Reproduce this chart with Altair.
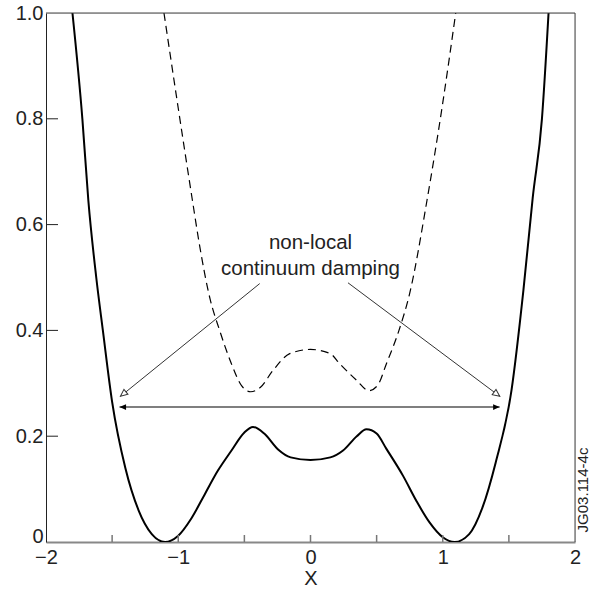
import math
import altair as alt
import pandas as pd

# ---- data ----
solid_x = [-1.80, -1.725, -1.68, -1.62, -1.57, -1.50, -1.40, -1.30, -1.20, -1.10,
           -1.00, -0.90, -0.80, -0.70, -0.60, -0.50, -0.435, -0.35, -0.245, -0.15,
           0.0, 0.15, 0.246, 0.35, 0.423, 0.50, 0.574, 0.70, 0.80, 0.90,
           1.00, 1.09, 1.20, 1.30, 1.40, 1.52, 1.61, 1.68, 1.75, 1.80]
solid_y = [1.0, 0.80, 0.646, 0.50, 0.40, 0.265, 0.14, 0.06, 0.015, 0.0,
           0.012, 0.045, 0.09, 0.135, 0.172, 0.207, 0.2175, 0.205, 0.175, 0.16,
           0.155, 0.16, 0.173, 0.20, 0.213, 0.205, 0.176, 0.125, 0.078, 0.037,
           0.009, 0.0, 0.015, 0.065, 0.15, 0.287, 0.476, 0.65, 0.80, 1.0]

dashed_x = [-1.108, -1.0, -0.893, -0.843, -0.76, -0.687, -0.598, -0.52, -0.452, -0.38,
            -0.283, -0.157, 0.0, 0.15, 0.221, 0.347, 0.442, 0.51, 0.574, 0.669,
            0.75, 0.881, 1.0, 1.098]
dashed_y = [1.0, 0.82, 0.646, 0.567, 0.46, 0.40, 0.337, 0.295, 0.284, 0.292,
            0.3245, 0.356, 0.364, 0.356, 0.337, 0.306, 0.286, 0.297, 0.337, 0.40,
            0.47, 0.646, 0.83, 1.0]

y_label_values = [0, 0.2, 0.4, 0.6, 0.8, 1.0]
x_label_values = [-2, -1, 0, 1, 2]
x_tick_values = [-1.5, -1, -0.5, 0, 0.5, 1, 1.5]
y_tick_values = [0.2, 0.4, 0.6, 0.8]

span_x = [-1.444, 1.43]
span_y = [0.255, 0.255]

pointer_start_x = [-0.384, 0.2835]
pointer_start_y = [0.4885, 0.490]
pointer_tip_x = [-1.437, 1.431]
pointer_tip_y = [0.2754, 0.2754]

label_lines = ["non-local", "continuum damping"]
label_x = [0.0, 0.0]
label_y = [0.565, 0.517]

W, H = 529, 529
FONT = "Liberation Sans"

xs = alt.Scale(domain=[-2, 2], nice=False, zero=False)
ys = alt.Scale(domain=[0, 1], nice=False, zero=False)


def px_angle(x0, y0, x1, y1):
    dx = (x1 - x0) * W / 4.0
    dy = -(y1 - y0) * H / 1.0
    return math.degrees(math.atan2(dx, -dy)) % 360


solid = alt.Chart(pd.DataFrame({"x": solid_x, "y": solid_y})).mark_line(
    color="black", strokeWidth=2, interpolate="monotone", clip=True
).encode(
    x=alt.X("x:Q", scale=xs, axis=alt.Axis(
        values=x_label_values, ticks=False, grid=False,
        labelExpr="replace(format(datum.value, 'd'), '-', '\u2212')",
        labelFlush=False, labelFontSize=20, labelFont=FONT, labelColor="#222",
        labelPadding=5, domainColor="#888", domainWidth=2,
        title="X", titleFontSize=20, titleFont=FONT, titleFontWeight="normal",
        titleColor="#222", titlePadding=1)),
    y=alt.Y("y:Q", scale=ys, axis=alt.Axis(
        values=y_label_values, ticks=False, grid=False,
        labelExpr="datum.value == 0 ? '0' : format(datum.value, '.1f')",
        labelBaseline=alt.condition("datum.value == 0", alt.value("alphabetic"), alt.value("middle")),
        labelFontSize=20, labelFont=FONT, labelColor="#222", labelPadding=3,
        domainColor="#222", domainWidth=1, title=None)),
)

dashed = alt.Chart(pd.DataFrame({"x": dashed_x, "y": dashed_y})).mark_line(
    color="black", strokeWidth=1.2, strokeDash=[8, 5], interpolate="monotone", clip=True
).encode(x=alt.X("x:Q", scale=xs), y=alt.Y("y:Q", scale=ys))

frame_top = alt.Chart().mark_rule(color="#444", strokeWidth=1).encode(
    x=alt.datum(-2, scale=xs), x2=alt.datum(2), y=alt.datum(1, scale=ys))
frame_right = alt.Chart().mark_rule(color="#444", strokeWidth=1).encode(
    x=alt.datum(2, scale=xs), y=alt.datum(0, scale=ys), y2=alt.datum(1))

xticks = alt.Chart(pd.DataFrame({"x": x_tick_values})).mark_rule(
    color="#777", strokeWidth=1.5).encode(
    x=alt.X("x:Q", scale=xs), y=alt.value(H), y2=alt.value(H - 7))
yticks = alt.Chart(pd.DataFrame({"y": y_tick_values})).mark_rule(
    color="#222", strokeWidth=1).encode(
    y=alt.Y("y:Q", scale=ys), x=alt.value(0), x2=alt.value(12))

span = alt.Chart(pd.DataFrame({"x": [span_x[0]], "x2": [span_x[1]], "y": [span_y[0]]})).mark_rule(
    color="#555", strokeWidth=1.5).encode(
    x=alt.X("x:Q", scale=xs), x2="x2:Q", y=alt.Y("y:Q", scale=ys))

span_heads = pd.DataFrame({
    "x": span_x, "y": span_y,
    "a": [px_angle(span_x[1], span_y[1], span_x[0], span_y[0]),
          px_angle(span_x[0], span_y[0], span_x[1], span_y[1])],
})
HEAD = "M0,0L0.45,1L-0.45,1Z"
span_head = alt.Chart(span_heads).mark_point(
    shape=HEAD, filled=True, color="black", size=170, opacity=1).encode(
    x=alt.X("x:Q", scale=xs), y=alt.Y("y:Q", scale=ys), angle=alt.Angle("a:Q", scale=None))

ptr = pd.DataFrame({"x": pointer_start_x, "y": pointer_start_y,
                    "x2": pointer_tip_x, "y2": pointer_tip_y})
ptr["a"] = [px_angle(a, b, c, d) for a, b, c, d in
            zip(pointer_start_x, pointer_start_y, pointer_tip_x, pointer_tip_y)]
pointers = alt.Chart(ptr).mark_rule(color="#333", strokeWidth=1).encode(
    x=alt.X("x:Q", scale=xs), y=alt.Y("y:Q", scale=ys), x2="x2:Q", y2="y2:Q")
pointer_heads = alt.Chart(ptr).mark_point(
    shape=HEAD, filled=True, fill="white", stroke="#333", strokeWidth=1,
    size=200, opacity=1).encode(
    x=alt.X("x2:Q", scale=xs), y=alt.Y("y2:Q", scale=ys), angle=alt.Angle("a:Q", scale=None))

labels = alt.Chart(pd.DataFrame({"t": label_lines, "x": label_x, "y": label_y})).mark_text(
    font=FONT, fontSize=20.5, color="#222", align="center", baseline="middle").encode(
    x=alt.X("x:Q", scale=xs), y=alt.Y("y:Q", scale=ys), text="t:N")

code = alt.Chart(pd.DataFrame({"t": ["JG03.114-4c"]})).mark_text(
    font=FONT, fontSize=15, color="#222", angle=270, align="center", baseline="middle").encode(
    x=alt.value(W + 8), y=alt.value(H - 52), text="t:N")

chart = alt.layer(
    solid, dashed, frame_top, frame_right, xticks, yticks,
    span, span_head, pointers, pointer_heads, labels, code
).properties(
    width=W, height=H,
    padding={"left": 46, "top": 13, "right": 21, "bottom": 50},
    autosize=alt.AutoSizeParams(type="none"),
).configure_view(stroke=None).configure(background="white")

chart.save("out.html", embed_options={"renderer": "svg", "actions": False})
